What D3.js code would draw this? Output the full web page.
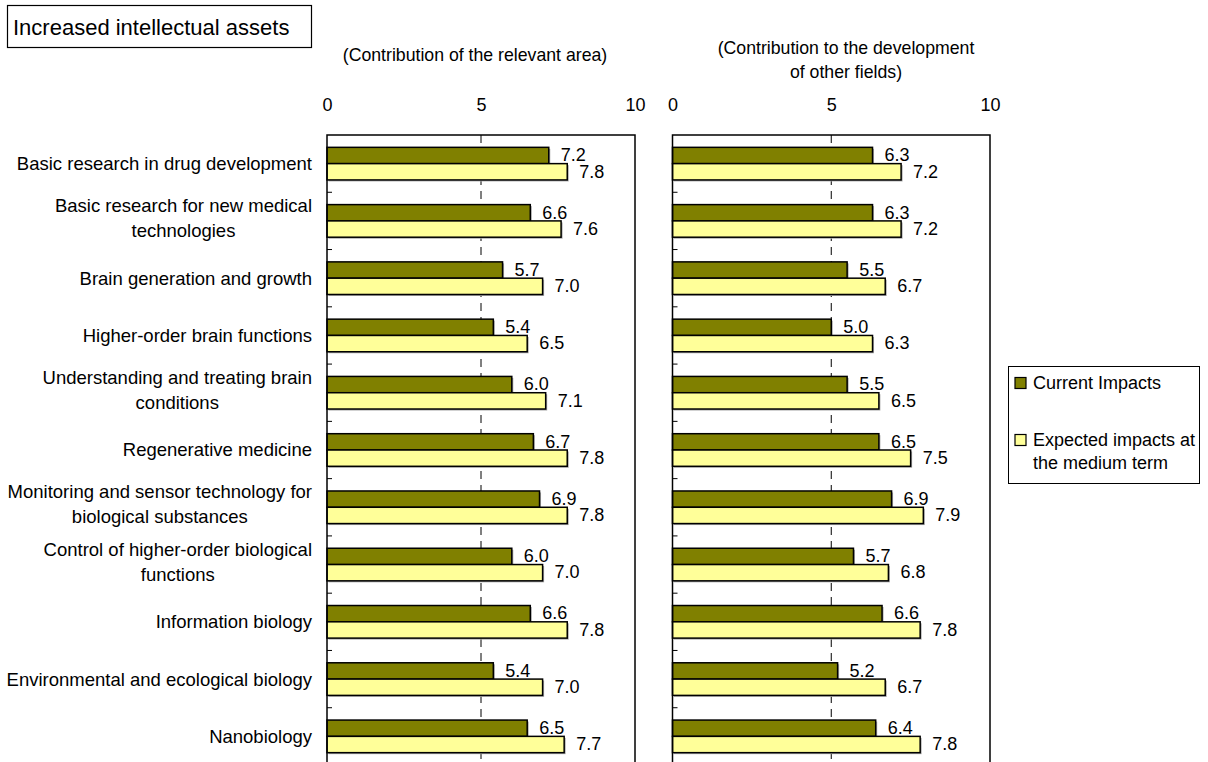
<!DOCTYPE html>
<html>
<head>
<meta charset="utf-8">
<script src="https://cdn.jsdelivr.net/npm/d3@7/dist/d3.min.js"></script>
<style>
  body { margin: 0; background: #fff; }
  svg text { font-family: "Liberation Sans", Arial, sans-serif; fill: #000; }
</style>
</head>
<body>
<div id="chart"></div>
<script>
// Data.
var categories = [
  "Basic research in drug development",
  "Basic research for new medical|technologies",
  "Brain generation and growth",
  "Higher-order brain functions",
  "Understanding and treating brain|conditions",
  "Regenerative medicine",
  "Monitoring and sensor technology for|biological substances",
  "Control of higher-order biological|functions",
  "Information biology",
  "Environmental and ecological biology",
  "Nanobiology"
];
var seriesNames = ["Current Impacts", "Expected impacts at|the medium term"];
var seriesColors = ["#808000", "#ffff99"];

var areaCurrent  = [7.2, 6.6, 5.7, 5.4, 6.0, 6.7, 6.9, 6.0, 6.6, 5.4, 6.5];
var areaExpected = [7.8, 7.6, 7.0, 6.5, 7.1, 7.8, 7.8, 7.0, 7.8, 7.0, 7.7];
var otherCurrent  = [6.3, 6.3, 5.5, 5.0, 5.5, 6.5, 6.9, 5.7, 6.6, 5.2, 6.4];
var otherExpected = [7.2, 7.2, 6.7, 6.3, 6.5, 7.5, 7.9, 6.8, 7.8, 6.7, 7.8];

var xTicks = [0, 5, 10];
var title = "Increased intellectual assets";
var panelTitles = [
  ["(Contribution of the relevant area)"],
  ["(Contribution to the development", "of other fields)"]
];

var width = 1208, height = 762,
  fontSize = 18,
  plotTop = 135, plotBottom = 765;

var svg = d3.select("#chart").append("svg")
  .attr("width", width)
  .attr("height", height);

// Title box.
svg.append("rect")
  .attr("x", 7.5).attr("y", 5.5)
  .attr("width", 304).attr("height", 42)
  .style("fill", "#fff").style("stroke", "#000").style("stroke-width", 1.2);
svg.append("text")
  .attr("x", 13).attr("y", 27)
  .attr("dy", "0.35em")
  .style("font-size", "22px")
  .text(title);

var y = d3.scaleBand()
  .domain(categories)
  .range([plotTop, plotBottom]);

var ySeries = d3.scaleBand()
  .domain([0, 1])
  .range([0, y.step()])
  .paddingOuter(0.757);

var panels = [
  { left: 327, right: 635, values: [areaCurrent, areaExpected], titles: panelTitles[0], titleX: 475, titleY: [55] },
  { left: 672.5, right: 990, values: [otherCurrent, otherExpected], titles: panelTitles[1], titleX: 846, titleY: [48, 72] }
];

panels.forEach(function(p) {
  var x = d3.scaleLinear().domain([0, 10]).range([p.left, p.right]);
  var g = svg.append("g");

  // Panel subtitles.
  p.titles.forEach(function(t, i) {
    g.append("text")
      .attr("x", p.titleX).attr("y", p.titleY[i])
      .attr("dy", "0.35em")
      .style("text-anchor", "middle")
      .style("font-size", "17.7px")
      .text(t);
  });

  // Top axis labels.
  var axis = g.append("g")
    .attr("transform", "translate(0," + 105 + ")")
    .call(d3.axisTop(x).tickValues(xTicks).tickSize(0).tickPadding(0));
  axis.select(".domain").remove();
  axis.selectAll("text")
    .attr("dy", "0.35em")
    .attr("y", 0)
    .style("font-size", fontSize + "px")
    .style("font-family", '"Liberation Sans", Arial, sans-serif');

  // Dashed gridline at 5.
  g.append("line")
    .attr("x1", x(5)).attr("x2", x(5))
    .attr("y1", plotTop).attr("y2", plotBottom)
    .style("stroke", "#000").style("stroke-width", 1)
    .style("stroke-dasharray", "8,6");

  // Bars.
  p.values.forEach(function(vals, s) {
    var rows = categories.map(function(c, i) { return { cat: c, v: vals[i] }; });

    // faint shadow
    g.selectAll(".shadow-" + s)
      .data(rows)
      .enter().append("rect")
        .attr("x", x(0) + 1.5)
        .attr("y", function(d) { return y(d.cat) + ySeries(s) + 1.5; })
        .attr("width", function(d) { return x(d.v) - x(0); })
        .attr("height", ySeries.bandwidth())
        .style("fill", "#a8a8a8");

    g.selectAll(".bar-" + s)
      .data(rows)
      .enter().append("rect")
        .attr("x", x(0))
        .attr("y", function(d) { return y(d.cat) + ySeries(s); })
        .attr("width", function(d) { return x(d.v) - x(0); })
        .attr("height", ySeries.bandwidth())
        .style("fill", seriesColors[s])
        .style("stroke", "#000")
        .style("stroke-width", 1.5);

    g.selectAll(".val-" + s)
      .data(rows)
      .enter().append("text")
        .attr("x", function(d) { return x(d.v) + 12; })
        .attr("y", function(d) { return y(d.cat) + ySeries(s) + ySeries.bandwidth() / 2 - 0.5; })
        .attr("dy", "0.35em")
        .style("font-size", fontSize + "px")
        .text(function(d) { return d.v.toFixed(1); });
  });

  // Frame.
  g.append("rect")
    .attr("x", p.left).attr("y", plotTop)
    .attr("width", p.right - p.left).attr("height", plotBottom - plotTop)
    .style("fill", "none").style("stroke", "#000").style("stroke-width", 1.5);

  // Category boundary ticks on the left edge.
  g.selectAll(".cat-tick")
    .data(categories.slice(1))
    .enter().append("line")
      .attr("x1", p.left).attr("x2", p.left + 5)
      .attr("y1", function(d) { return y(d); })
      .attr("y2", function(d) { return y(d); })
      .style("stroke", "#000").style("stroke-width", 1);
});

// Category labels: block right-aligned, lines centred inside the block.
var labelRight = 312;
categories.forEach(function(c) {
  var lines = c.split("|");
  var lh = 25;
  var cy = y(c) + y.step() / 2 - (lines.length > 1 ? 3 : 0);
  var texts = lines.map(function(l, i) {
    return svg.append("text")
      .attr("y", cy + (i - (lines.length - 1) / 2) * lh)
      .attr("dy", "0.35em")
      .style("font-size", "18.5px")
      .style("text-anchor", "middle")
      .text(l);
  });
  var w = d3.max(texts, function(t) { return t.node().getComputedTextLength(); });
  texts.forEach(function(t) { t.attr("x", labelRight - w / 2); });
});

// Legend.
var legend = svg.append("g");
legend.append("rect")
  .attr("x", 1008.5).attr("y", 366.5)
  .attr("width", 191).attr("height", 117)
  .style("fill", "#fff").style("stroke", "#000").style("stroke-width", 1);
var legendY = [383, 440];
seriesNames.forEach(function(name, i) {
  legend.append("rect")
    .attr("x", 1015).attr("y", legendY[i] - 5.5)
    .attr("width", 11).attr("height", 11)
    .style("fill", seriesColors[i]).style("stroke", "#000").style("stroke-width", 1.2);
  name.split("|").forEach(function(line, j) {
    legend.append("text")
      .attr("x", 1033).attr("y", legendY[i] + j * 23)
      .attr("dy", "0.35em")
      .style("font-size", fontSize + "px")
      .text(line);
  });
});
</script>
</body>
</html>
